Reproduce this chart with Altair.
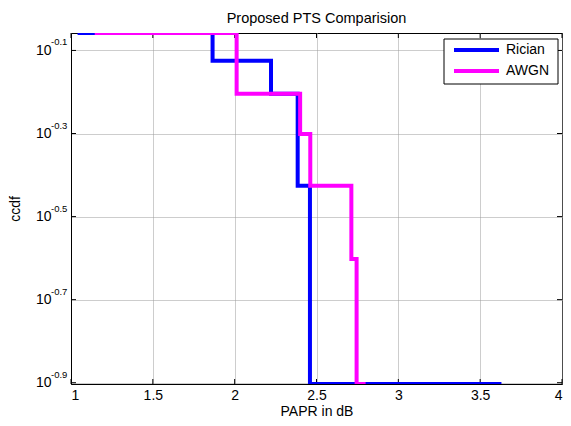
import altair as alt
import pandas as pd

# ---- data ----
rician_x = [1.04, 1.865, 2.222, 2.385, 2.46, 3.63]
rician_ccdf = [0.875, 0.75, 0.625, 0.375, 0.125, 0.125]
awgn_x = [1.145, 2.012, 2.40, 2.462, 2.713, 2.745, 2.80]
awgn_ccdf = [0.875, 0.625, 0.5, 0.375, 0.25, 0.125, 0.125]
series = ["Rician", "AWGN"]
colors = ["#0000FF", "#FF00FF"]
x_ticks = [1, 1.5, 2, 2.5, 3, 3.5, 4]
y_exps = [-0.9, -0.7, -0.5, -0.3, -0.1]
y_limits = [0.125, 0.875]
x_limits = [1, 4]

FONT = "Liberation Sans"
W, H = 491, 351

df = pd.concat([
    pd.DataFrame({"papr": rician_x, "ccdf": rician_ccdf, "series": series[0]}),
    pd.DataFrame({"papr": awgn_x, "ccdf": awgn_ccdf, "series": series[1]}),
])
yt = pd.DataFrame({"v": [10 ** e for e in y_exps], "exp": [f"{e:.1f}" for e in y_exps]})
xt = pd.DataFrame({"v": x_ticks})
leg = pd.DataFrame({"series": series, "color": colors})

xscale = alt.Scale(domain=x_limits, nice=False, zero=False)
yscale = alt.Scale(type="log", domain=y_limits, nice=False)

x_enc = alt.X("papr:Q", scale=xscale,
              axis=alt.Axis(values=x_ticks, format="~g", title="PAPR in dB",
                            ticks=False, labelPadding=4, titlePadding=2,
                            grid=True))
y_enc = alt.Y("ccdf:Q", scale=yscale,
              axis=alt.Axis(values=[10 ** e for e in y_exps], labelExpr="'10'",
                            title="ccdf", ticks=False, labelPadding=20,
                            titlePadding=13, grid=True, labelBaseline="middle"))

color = alt.Color("series:N", scale=alt.Scale(domain=series, range=colors), legend=None)

base = alt.Chart(df)
line_r = base.transform_filter(alt.datum.series == series[0]).mark_line(
    interpolate="step-after", strokeWidth=4, clip=True).encode(x=x_enc, y=y_enc, color=color)
line_a = base.transform_filter(alt.datum.series == series[1]).mark_line(
    interpolate="step-after", strokeWidth=4, clip=True).encode(x=x_enc, y=y_enc, color=color)

exps = alt.Chart(yt).mark_text(align="left", baseline="alphabetic", dy=-5,
                               fontSize=9.5, font=FONT, color="black").encode(
    x=alt.value(-20), y=alt.Y("v:Q", scale=yscale), text="exp:N")

tick_b = alt.Chart(xt).mark_rule(color="black").encode(
    x=alt.X("v:Q", scale=xscale), y=alt.value(H), y2=alt.value(H - 5))
tick_t = alt.Chart(xt).mark_rule(color="black").encode(
    x=alt.X("v:Q", scale=xscale), y=alt.value(0), y2=alt.value(5))
tick_l = alt.Chart(yt).mark_rule(color="black").encode(
    y=alt.Y("v:Q", scale=yscale), x=alt.value(0), x2=alt.value(5))
tick_r = alt.Chart(yt).mark_rule(color="black").encode(
    y=alt.Y("v:Q", scale=yscale), x=alt.value(W), x2=alt.value(W - 5))

# legend box (drawn manually, MATLAB style)
LX = W - 118
leg_box = alt.Chart(leg).transform_filter(alt.datum.series == series[0]).mark_rect(
    fill="white", stroke="black", strokeWidth=1).encode(
    x=alt.value(LX), x2=alt.value(LX + 114), y=alt.value(6), y2=alt.value(51))
leg_layers = [leg_box]
for i, s in enumerate(series):
    row_y = 17 + 21 * i
    sub = alt.Chart(leg).transform_filter(alt.datum.series == s)
    leg_layers.append(sub.mark_rule(strokeWidth=4).encode(
        x=alt.value(LX + 10), x2=alt.value(LX + 55), y=alt.value(row_y),
        color=alt.Color("color:N", scale=None)))
    leg_layers.append(sub.mark_text(align="left", baseline="middle", fontSize=14,
                                    font=FONT, color="black").encode(
        x=alt.value(LX + 62), y=alt.value(row_y), text="series:N"))

chart = alt.layer(tick_b, tick_t, tick_l, tick_r, line_r, line_a, exps,
                  *leg_layers).properties(
    width=W, height=H,
    background="white",
    title=alt.TitleParams("Proposed PTS Comparision", fontSize=14.5, fontWeight="normal",
                          font=FONT, offset=6, anchor="middle", color="black"),
    autosize=alt.AutoSizeParams(type="none"),
    padding={"left": 63, "top": 25, "right": 1, "bottom": 34},
).configure_view(stroke="black", strokeWidth=1).configure_axis(
    labelFont=FONT, titleFont=FONT, labelFontSize=14, titleFontSize=14,
    titleFontWeight="normal", labelColor="black", titleColor="black",
    domainColor="black", gridColor="#9a9a9a", gridDash=[1, 1], gridOpacity=1,
    gridWidth=1,
)

chart.save("out.html", embed_options={"renderer": "svg", "actions": False})
